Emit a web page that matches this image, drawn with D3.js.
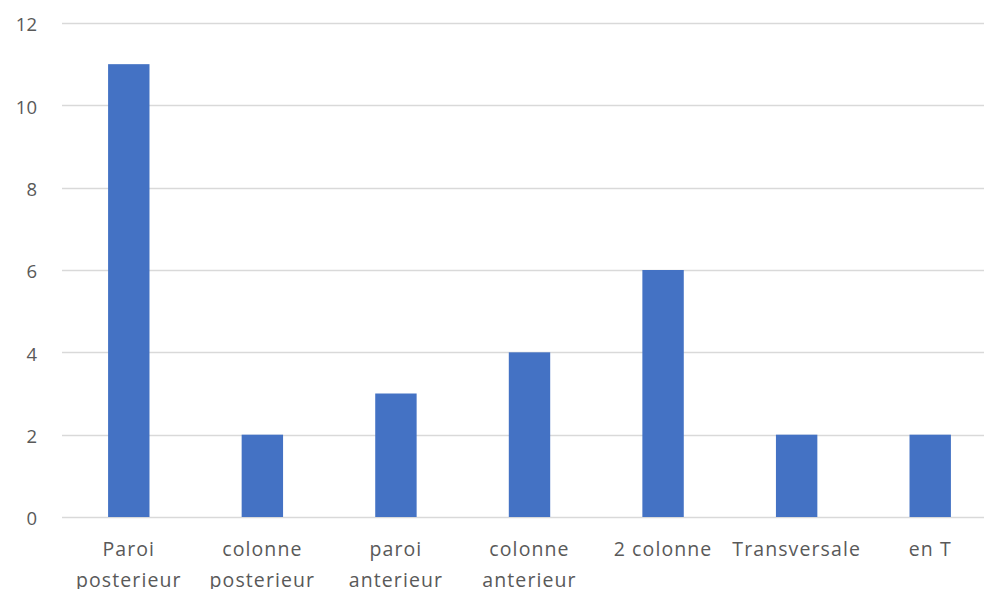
<!DOCTYPE html>
<html>
<head>
<meta charset="utf-8">
<script src="https://cdn.jsdelivr.net/npm/d3@7"></script>
<style>
  html, body { margin: 0; padding: 0; background: #fff; }
  svg { display: block; }
  text { font-family: "Open Sans", "Noto Sans", sans-serif; fill: #595959; }
</style>
</head>
<body>
<svg id="chart" width="984" height="589"></svg>
<script>
// Fracture types and counts
const categories = [
  ["Paroi", "posterieur"],
  ["colonne", "posterieur"],
  ["paroi", "anterieur"],
  ["colonne", "anterieur"],
  ["2 colonne"],
  ["Transversale"],
  ["en T"]
];
const values = [11, 2, 3, 4, 6, 2, 2];
const yTicks = [0, 2, 4, 6, 8, 10, 12];

const svg = d3.select("#chart");
const plotLeft = 62, plotRight = 997, plotTop = 23, plotBottom = 517;

const x = d3.scaleBand()
  .domain(d3.range(categories.length))
  .range([plotLeft, plotRight])
  .paddingInner(0.69)
  .paddingOuter(0.345);

const y = d3.scaleLinear().domain([0, 12]).range([plotBottom, plotTop]);

// horizontal gridlines
svg.append("g")
  .selectAll("line")
  .data(yTicks)
  .join("line")
  .attr("x1", plotLeft)
  .attr("x2", 984)
  .attr("y1", d => Math.round(y(d)) + 0.5)
  .attr("y2", d => Math.round(y(d)) + 0.5)
  .attr("stroke", "#d9d9d9")
  .attr("stroke-width", 1.5);

// y axis labels
const yAxis = d3.axisLeft(y).tickValues(yTicks).tickSize(0).tickPadding(0);
const gy = svg.append("g").attr("transform", "translate(37,0)").call(yAxis);
gy.select(".domain").remove();
gy.selectAll("text")
  .attr("font-size", 18.5)
  .attr("dy", "0.42em")
  .style("font-family", '"Open Sans", "Noto Sans", sans-serif')
  .attr("fill", "#595959");

// bars
svg.append("g")
  .selectAll("rect")
  .data(values)
  .join("rect")
  .attr("x", (d, i) => x(i))
  .attr("width", x.bandwidth())
  .attr("y", d => y(d))
  .attr("height", d => y(0) - y(d))
  .attr("fill", "#4472c4");

// category labels
const labels = svg.append("g")
  .selectAll("text")
  .data(categories)
  .join("text")
  .attr("text-anchor", "middle")
  .attr("font-size", 19.5)
  .attr("letter-spacing", 1.1)
  .attr("x", (d, i) => x(i) + x.bandwidth() / 2)
  .attr("y", 556);
labels.selectAll("tspan")
  .data(d => d)
  .join("tspan")
  .attr("x", function() { return d3.select(this.parentNode).attr("x"); })
  .attr("dy", (d, i) => i === 0 ? 0 : 31)
  .text(d => d);
</script>
</body>
</html>
